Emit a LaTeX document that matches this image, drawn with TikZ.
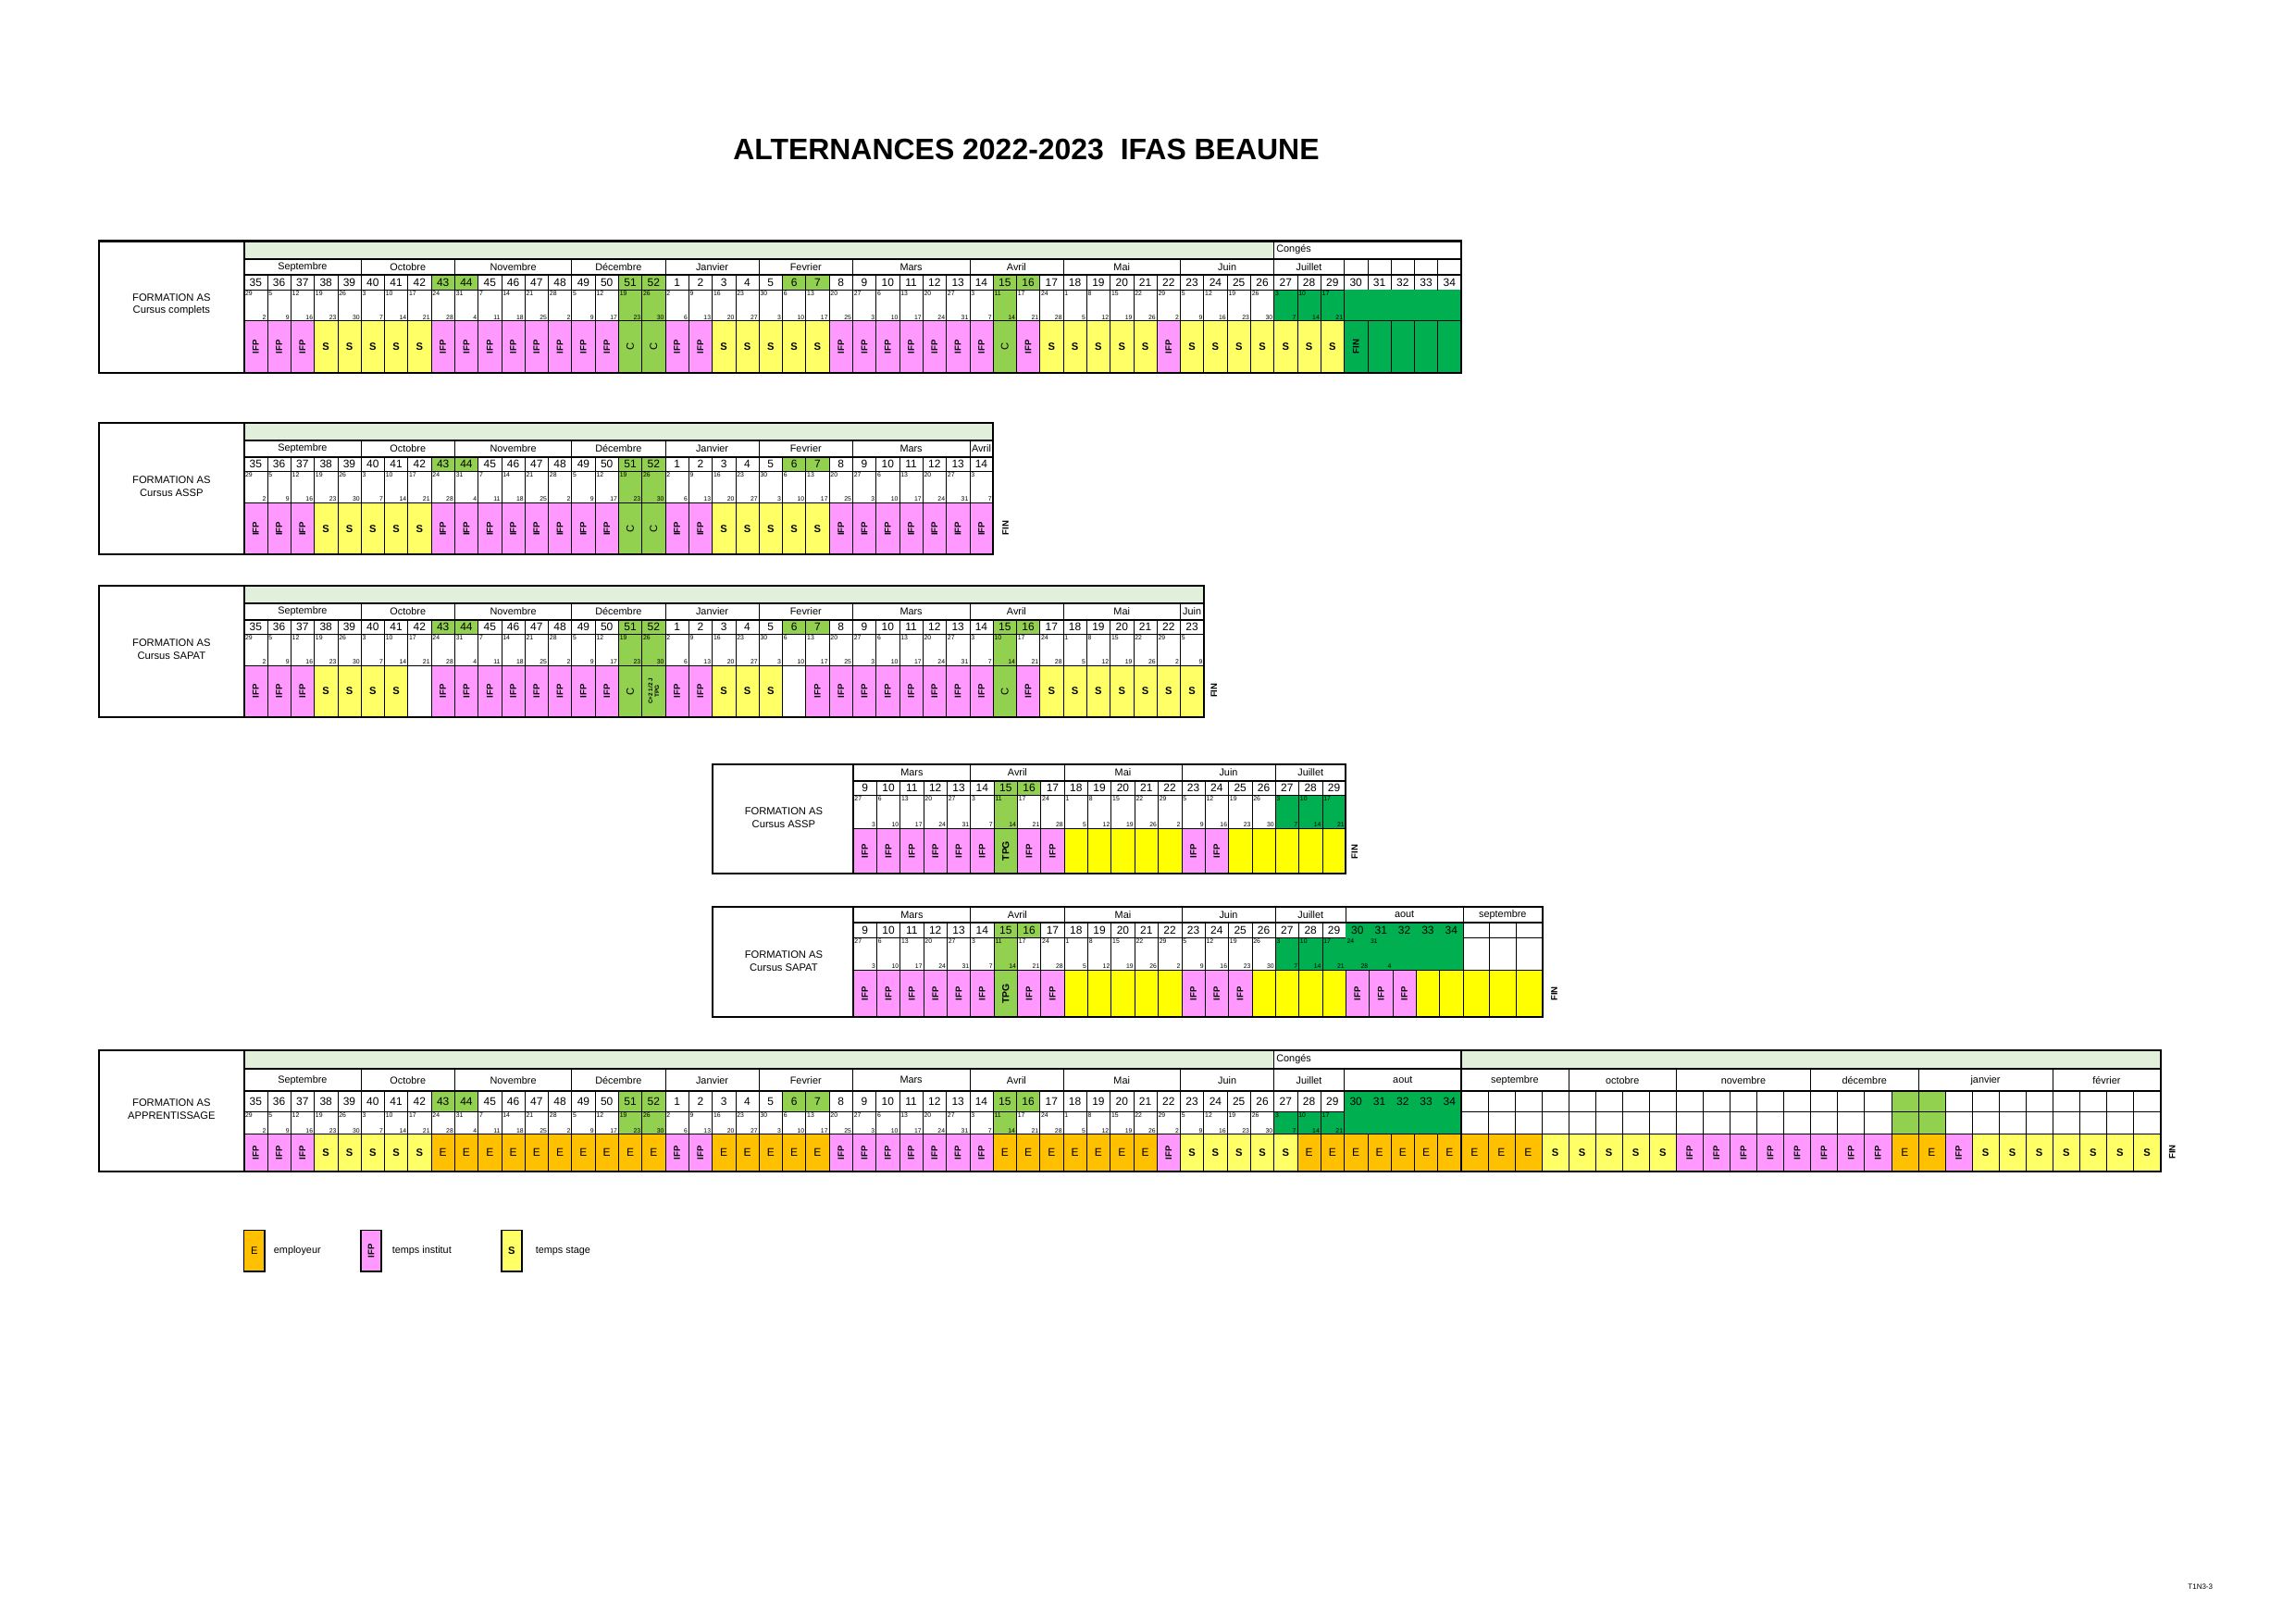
\documentclass[tikz,border=0pt]{standalone}
\usepackage{fontspec}
\setmainfont{Liberation Sans}
\definecolor{pinkifp}{HTML}{FF99FF}
\definecolor{yelstage}{HTML}{FFFF66}
\definecolor{yelblank}{HTML}{FFFF00}
\definecolor{orngemp}{HTML}{FFC000}
\definecolor{midgreen}{HTML}{92D050}
\definecolor{darkgreen}{HTML}{00B050}
\definecolor{lightgreen}{HTML}{E2EFDA}
\tikzset{
  cell/.style={draw,line width=0.4pt},
  frame/.style={draw,line width=1.3pt},
  wkw/.style={cell,fill=white}, wkg/.style={cell,fill=midgreen}, wkG/.style={wkg},
  wkd/.style={wkw}, wkx/.style={wkw}, wkb/.style={wkw}, wkB/.style={wkg},
  wkD/.style={fill=darkgreen},
  dtw/.style={cell,fill=white}, dtg/.style={dtw}, dtb/.style={dtw},
  dtG/.style={cell,fill=midgreen}, dtB/.style={dtG},
  dtd/.style={cell,fill=darkgreen}, dtx/.style={fill=darkgreen}, dtD/.style={fill=darkgreen},
  actI/.style={cell,fill=pinkifp}, actS/.style={cell,fill=yelstage},
  actC/.style={cell,fill=midgreen}, actP/.style={actC}, actT/.style={actC},
  actE/.style={cell,fill=orngemp}, actF/.style={cell,fill=darkgreen},
  actG/.style={cell,fill=darkgreen}, actY/.style={cell,fill=yelblank},
  actW/.style={cell,fill=white},
  lblI/.style={rotate=90,font=\fontsize{6}{6}\selectfont\bfseries,node contents=IFP},
  lblS/.style={font=\fontsize{7}{7}\selectfont\bfseries,node contents=S},
  lblE/.style={font=\fontsize{7.5}{7.5}\selectfont,node contents=E},
  lblC/.style={rotate=90,font=\fontsize{7}{7}\selectfont,node contents=C},
  lblF/.style={rotate=90,font=\fontsize{6}{6}\selectfont\bfseries,node contents=FIN},
  lblP/.style={rotate=90,font=\fontsize{6.5}{6.5}\selectfont\bfseries,node contents=TPG},
  lblT/.style={rotate=90,font=\fontsize{4}{4.5}\selectfont\bfseries,align=center,
    inner sep=0pt,node contents={C+2 1/2 J\\TPG}},
  lblG/.style={node contents={}}, lblY/.style={lblG}, lblW/.style={lblG},
  wknum/.style={font=\fontsize{7.5}{7.5}\selectfont,inner sep=0pt},
  day/.style={font=\fontsize{4.3}{4.3}\selectfont,inner sep=0.7pt},
  mon/.style={font=\fontsize{6.8}{6.8}\selectfont,inner sep=0pt},
  title/.style={font=\fontsize{7}{8.5}\selectfont,align=center},
  fin/.style={rotate=90,font=\fontsize{6}{6}\selectfont\bfseries},
}
% week columns: x0, width, list week/monday/friday/activity/header
\newcommand\calcols[3]{%
  \foreach \wk/\mo/\fr/\ac/\hd [count=\i from 0] in {#3}{
    \pgfmathsetmacro\xa{#1+\i*#2}
    \pgfmathsetmacro\xb{\xa+#2}
    \path[wk\hd] (\xa,\yW) rectangle (\xb,\yD);
    \node[wknum] at ({(\xa+\xb)/2},{(\yW+\yD)/2}) {\wk};
    \path[dt\hd] (\xa,\yD) rectangle (\xb,\yA);
    \node[day,anchor=north west] at (\xa,\yD) {\mo};
    \node[day,anchor=south east] at (\xb,\yA) {\fr};
    \path[act\ac] (\xa,\yA) rectangle (\xb,\yB);
    \path ({(\xa+\xb)/2},{(\yA+\yB)/2}) node[lbl\ac];
  }}
% month cells: x0, width, list name/start/count
\newcommand\calmonths[3]{%
  \foreach \mn/\s/\n in {#3}{
    \draw[cell] ({#1+\s*#2},\yM) rectangle ({#1+(\s+\n)*#2},\yW);
    \node[mon] at ({#1+(\s+\n/2)*#2},{(\yM+\yW)/2}) {\mn};
  }}
\begin{document}
\begin{tikzpicture}[x=1pt,y=-1pt]
\useasboundingbox (0,0) rectangle (1552,1098);
\def\w{15.83}

\node[font=\fontsize{20}{20}\selectfont\bfseries] (titre) at (694,101) {ALTERNANCES 2022-2023\ \ IFAS BEAUNE};

%table 1 cursus complets%%%%%%%%%%%%%%%%%%%%%%%%%%%%%%%%%%%%%%%%%%%%
\def\yM{175}\def\yW{186}\def\yD{196}\def\yA{217}\def\yB{252}
\path[cell,fill=lightgreen] (165,163) rectangle (861.5,175);
\draw[cell] (861.5,163) rectangle (988,175);
\node[mon,anchor=west] at (863,169) {Congés};
\calmonths{165}{\w}{Septembre/0/5,Octobre/5/4,Novembre/9/5,Décembre/14/4,Janvier/18/4,Fevrier/22/4,Mars/26/5,Avril/31/4,Mai/35/5,Juin/40/4,Juillet/44/3,{}/47/1,{}/48/1,{}/49/1,{}/50/1,{}/51/1}
\calcols{165}{\w}{35/29/2/I/w,36/5/9/I/w,37/12/16/I/w,38/19/23/S/w,39/26/30/S/w,40/3/7/S/w,41/10/14/S/w,42/17/21/S/w,43/24/28/I/g,44/31/4/I/g,45/7/11/I/w,46/14/18/I/w,47/21/25/I/w,48/28/2/I/w,49/5/9/I/w,50/12/17/I/w,51/19/23/C/G,52/26/30/C/G,1/2/6/I/w,2/9/13/I/w,3/16/20/S/w,4/23/27/S/w,5/30/3/S/w,6/6/10/S/g,7/13/17/S/g,8/20/25/I/w,9/27/3/I/w,10/6/10/I/w,11/13/17/I/w,12/20/24/I/w,13/27/31/I/w,14/3/7/I/w,15/11/14/C/G,16/17/21/I/g,17/24/28/S/w,18/1/5/S/w,19/8/12/S/w,20/15/19/S/w,21/22/26/S/w,22/29/2/I/w,23/5/9/S/w,24/12/16/S/w,25/19/23/S/w,26/26/30/S/w,27/3/7/S/d,28/10/14/S/d,29/17/21/S/d,30/{}/{}/F/x,31/{}/{}/G/x,32/{}/{}/G/x,33/{}/{}/G/x,34/{}/{}/G/x}
\draw[frame] (67,163) rectangle (988,252);
\draw[frame] (165,163)--(165,252);
\draw[frame] (165,175)--(988,175);
\draw[frame] (165,186)--(988,186);
\node[title] (t-complets) at (116,206) {FORMATION AS\\Cursus complets};

%table 2 cursus assp%%%%%%%%%%%%%%%%%%%%%%%%%%%%%%%%%%%%%%%%%%%%%%%%
\def\yM{298}\def\yW{309}\def\yD{319}\def\yA{340}\def\yB{375}
\path[cell,fill=lightgreen] (165,286) rectangle (671.6,298);
\calmonths{165}{\w}{Septembre/0/5,Octobre/5/4,Novembre/9/5,Décembre/14/4,Janvier/18/4,Fevrier/22/4,Mars/26/5,Avril/31/1}
\calcols{165}{\w}{35/29/2/I/w,36/5/9/I/w,37/12/16/I/w,38/19/23/S/w,39/26/30/S/w,40/3/7/S/w,41/10/14/S/w,42/17/21/S/w,43/24/28/I/g,44/31/4/I/g,45/7/11/I/w,46/14/18/I/w,47/21/25/I/w,48/28/2/I/w,49/5/9/I/w,50/12/17/I/w,51/19/23/C/G,52/26/30/C/G,1/2/6/I/w,2/9/13/I/w,3/16/20/S/w,4/23/27/S/w,5/30/3/S/w,6/6/10/S/g,7/13/17/S/g,8/20/25/I/w,9/27/3/I/w,10/6/10/I/w,11/13/17/I/w,12/20/24/I/w,13/27/31/I/w,14/3/7/I/w}
\draw[frame] (67,286) rectangle (671.6,375);
\draw[frame] (165,286)--(165,375);
\draw[frame] (165,298)--(671.6,298);
\draw[frame] (165,309)--(671.6,309);
\node[title] (t-assp) at (116,329) {FORMATION AS\\Cursus ASSP};
\node[fin] (fin-assp) at (680,357) {FIN};

%table 3 cursus sapat%%%%%%%%%%%%%%%%%%%%%%%%%%%%%%%%%%%%%%%%%%%%%%%
\def\yM{408}\def\yW{419}\def\yD{429}\def\yA{450}\def\yB{485}
\path[cell,fill=lightgreen] (165,396) rectangle (814,408);
\calmonths{165}{\w}{Septembre/0/5,Octobre/5/4,Novembre/9/5,Décembre/14/4,Janvier/18/4,Fevrier/22/4,Mars/26/5,Avril/31/4,Mai/35/5,Juin/40/1}
\calcols{165}{\w}{35/29/2/I/w,36/5/9/I/w,37/12/16/I/w,38/19/23/S/w,39/26/30/S/w,40/3/7/S/w,41/10/14/S/w,42/17/21/W/w,43/24/28/I/g,44/31/4/I/g,45/7/11/I/w,46/14/18/I/w,47/21/25/I/w,48/28/2/I/w,49/5/9/I/w,50/12/17/I/w,51/19/23/C/G,52/26/30/T/G,1/2/6/I/w,2/9/13/I/w,3/16/20/S/w,4/23/27/S/w,5/30/3/S/w,6/6/10/W/g,7/13/17/I/g,8/20/25/I/w,9/27/3/I/w,10/6/10/I/w,11/13/17/I/w,12/20/24/I/w,13/27/31/I/w,14/3/7/I/w,15/10/14/C/G,16/17/21/I/g,17/24/28/S/w,18/1/5/S/w,19/8/12/S/w,20/15/19/S/w,21/22/26/S/w,22/29/2/S/w,23/5/9/S/w}
\draw[frame] (67,396) rectangle (814,485);
\draw[frame] (165,396)--(165,485);
\draw[frame] (165,408)--(814,408);
\draw[frame] (165,419)--(814,419);
\node[title] (t-sapat) at (116,439) {FORMATION AS\\Cursus SAPAT};
\node[fin] (fin-sapat) at (821,467) {FIN};

%table 4 cursus assp (mars)%%%%%%%%%%%%%%%%%%%%%%%%%%%%%%%%%%%%%%%%%
\def\w{15.86}
\def\yM{517}\def\yW{528}\def\yD{538}\def\yA{560}\def\yB{591}
\calmonths{577}{\w}{Mars/0/5,Avril/5/4,Mai/9/5,Juin/14/4,Juillet/18/3}
\calcols{577}{\w}{9/27/3/I/w,10/6/10/I/w,11/13/17/I/w,12/20/24/I/w,13/27/31/I/w,14/3/7/I/w,15/11/14/P/G,16/17/21/I/g,17/24/28/I/w,18/1/5/Y/w,19/8/12/Y/w,20/15/19/Y/w,21/22/26/Y/w,22/29/2/Y/w,23/5/9/I/w,24/12/16/I/w,25/19/23/Y/w,26/26/30/Y/w,27/3/7/Y/d,28/10/14/Y/d,29/17/21/Y/d}
\draw[frame] (482,517) rectangle (910,591);
\draw[frame] (577,517)--(577,591);
\draw[frame] (577,528)--(910,528);
\node[title] (t-assp2) at (530,553) {FORMATION AS\\Cursus ASSP};
\node[fin] (fin-assp2) at (916,576) {FIN};

%table 5 cursus sapat (mars)%%%%%%%%%%%%%%%%%%%%%%%%%%%%%%%%%%%%%%%%
\def\yM{613}\def\yW{624}\def\yD{634}\def\yA{656}\def\yB{688}
\calmonths{577}{\w}{Mars/0/5,Avril/5/4,Mai/9/5,Juin/14/4,Juillet/18/3,aout/21/5}
\calmonths{989.4}{17.87}{septembre/0/3}
\calcols{577}{\w}{9/27/3/I/w,10/6/10/I/w,11/13/17/I/w,12/20/24/I/w,13/27/31/I/w,14/3/7/I/w,15/11/14/P/G,16/17/21/I/g,17/24/28/I/w,18/1/5/Y/w,19/8/12/Y/w,20/15/19/Y/w,21/22/26/Y/w,22/29/2/Y/w,23/5/9/I/w,24/12/16/I/w,25/19/23/I/w,26/26/30/Y/w,27/3/7/Y/d,28/10/14/Y/d,29/17/21/Y/d,30/24/28/I/D,31/31/4/I/D,32/{}/{}/I/D,33/{}/{}/Y/D,34/{}/{}/Y/D}
\calcols{989.4}{17.87}{{}/{}/{}/Y/b,{}/{}/{}/Y/b,{}/{}/{}/Y/b}
\draw[frame] (482,613) rectangle (1043,688);
\draw[frame] (577,613)--(577,688);
\draw[frame] (577,624)--(1043,624);
\node[title] (t-sapat2) at (530,650) {FORMATION AS\\Cursus SAPAT};
\node[fin] (fin-sapat2) at (1051,672) {FIN};

%table 6 apprentissage%%%%%%%%%%%%%%%%%%%%%%%%%%%%%%%%%%%%%%%%%%%%%%
\def\w{15.83}
\def\yM{723}\def\yW{738}\def\yD{752}\def\yA{767}\def\yB{792}
\path[cell,fill=lightgreen] (165,710) rectangle (861.5,723);
\draw[cell] (861.5,710) rectangle (988,723);
\path[cell,fill=lightgreen] (988,710) rectangle (1461,723);
\node[mon,anchor=west] at (863,716.5) {Congés};
\calmonths{165}{\w}{Septembre/0/5,Octobre/5/4,Novembre/9/5,Décembre/14/4,Janvier/18/4,Fevrier/22/4,Mars/26/5,Avril/31/4,Mai/35/5,Juin/40/4,Juillet/44/3,aout/47/5}
\calmonths{988}{18.19}{septembre/0/4,octobre/4/4,novembre/8/5,décembre/13/4,janvier/17/5,février/22/4}
\calcols{165}{\w}{35/29/2/I/w,36/5/9/I/w,37/12/16/I/w,38/19/23/S/w,39/26/30/S/w,40/3/7/S/w,41/10/14/S/w,42/17/21/S/w,43/24/28/E/g,44/31/4/E/g,45/7/11/E/w,46/14/18/E/w,47/21/25/E/w,48/28/2/E/w,49/5/9/E/w,50/12/17/E/w,51/19/23/E/G,52/26/30/E/G,1/2/6/I/w,2/9/13/I/w,3/16/20/E/w,4/23/27/E/w,5/30/3/E/w,6/6/10/E/g,7/13/17/E/g,8/20/25/I/w,9/27/3/I/w,10/6/10/I/w,11/13/17/I/w,12/20/24/I/w,13/27/31/I/w,14/3/7/I/w,15/11/14/E/G,16/17/21/E/g,17/24/28/E/w,18/1/5/E/w,19/8/12/E/w,20/15/19/E/w,21/22/26/E/w,22/29/2/I/w,23/5/9/S/w,24/12/16/S/w,25/19/23/S/w,26/26/30/S/w,27/3/7/S/d,28/10/14/E/d,29/17/21/E/d,30/{}/{}/E/D,31/{}/{}/E/D,32/{}/{}/E/D,33/{}/{}/E/D,34/{}/{}/E/D}
\calcols{988}{18.19}{{}/{}/{}/E/b,{}/{}/{}/E/b,{}/{}/{}/E/b,{}/{}/{}/S/b,{}/{}/{}/S/b,{}/{}/{}/S/b,{}/{}/{}/S/b,{}/{}/{}/S/b,{}/{}/{}/I/b,{}/{}/{}/I/b,{}/{}/{}/I/b,{}/{}/{}/I/b,{}/{}/{}/I/b,{}/{}/{}/I/b,{}/{}/{}/I/b,{}/{}/{}/I/b,{}/{}/{}/E/B,{}/{}/{}/E/B,{}/{}/{}/I/b,{}/{}/{}/S/b,{}/{}/{}/S/b,{}/{}/{}/S/b,{}/{}/{}/S/b,{}/{}/{}/S/b,{}/{}/{}/S/b,{}/{}/{}/S/b}
\draw[frame] (67,710) rectangle (1461,792);
\draw[frame] (165,710)--(165,792);
\draw[frame] (165,723)--(1461,723);
\draw[frame] (165,738)--(1461,738);
\draw[frame] (988,710)--(988,792);
\node[title] (t-app) at (116,750) {FORMATION AS\\APPRENTISSAGE};
\node[fin] (fin-app) at (1469,779) {FIN};

%legende%%%%%%%%%%%%%%%%%%%%%%%%%%%%%%%%%%%%%%%%%%%%%%%%%%%%%%%%%%%%
\node[frame,line width=1pt,fill=orngemp,minimum width=14,minimum height=28,inner sep=0pt,
  font=\fontsize{7}{7}\selectfont] (leg-e) at (172,846) {E};
\node[frame,line width=1pt,fill=pinkifp,minimum width=14,minimum height=28,inner sep=0pt] (leg-i) at (251,846) {};
\node[rotate=90,font=\fontsize{6}{6}\selectfont\bfseries] at (leg-i) {IFP};
\node[frame,line width=1pt,fill=yelstage,minimum width=14,minimum height=28,inner sep=0pt,
  font=\fontsize{7}{7}\selectfont\bfseries] (leg-s) at (346,846) {S};
\node[mon,anchor=west] (lt-e) at (185,846) {employeur};
\node[mon,anchor=west] (lt-i) at (265,846) {temps institut};
\node[mon,anchor=west] (lt-s) at (362,846) {temps stage};

\node[font=\fontsize{5}{5}\selectfont] (ref) at (1488,1073) {T1N3-3};
\end{tikzpicture}
\end{document}
